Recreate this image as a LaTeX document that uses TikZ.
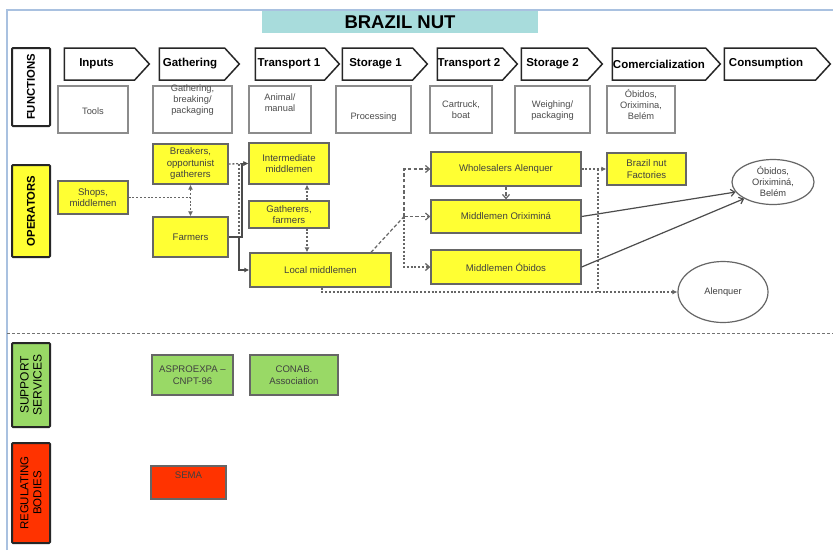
\documentclass[tikz,border=0pt]{standalone}
\usepackage{fontspec}
\setmainfont{Liberation Sans}
\usetikzlibrary{shapes.symbols,shapes.geometric,arrows.meta}

\definecolor{titlecyan}{HTML}{A8DCDC}
\definecolor{opyellow}{HTML}{FFFF33}
\definecolor{supgreen}{HTML}{99D966}
\definecolor{regred}{HTML}{FF3300}
\definecolor{frameblue}{HTML}{A9C1E0}

\begin{document}
\begin{tikzpicture}[x=1pt,y=-1pt,
  lane/.style={draw=black!85, line width=2pt, rounded corners=1pt, inner sep=0pt,
    rotate=90, align=center, minimum height=38},
  chev/.style={signal, signal to=east, signal pointer angle=95, draw=black!85,
    line width=1.5pt, fill=white, minimum height=32, inner sep=0pt,
    font=\fontsize{11.5}{13}\selectfont\bfseries},
  task/.style={draw=black!45, line width=1.4pt, fill=white, inner sep=0pt, minimum height=47},
  tasktext/.style={inner sep=0pt, align=center, text=black!70,
    font=\fontsize{9.3}{11}\selectfont},
  op/.style={draw=black!60, line width=1.3pt, fill=opyellow, inner sep=0pt, align=center,
    text=black!75, font=\fontsize{9.6}{11.5}\selectfont},
  sup/.style={op, fill=supgreen},
  reg/.style={op, fill=regred},
  place/.style={ellipse, draw=black!60, line width=1.2pt, fill=white, inner sep=0pt,
    align=center, text=black!75, font=\fontsize{9.3}{11}\selectfont},
  dots/.style={draw=black!60, line width=1.3pt, dash pattern=on 2pt off 1.8pt},
  dashes/.style={draw=black!60, line width=1.2pt, dash pattern=on 3.5pt off 2.2pt},
  flow/.style={draw=black!70, line width=1.2pt},
  filledtip/.style={-{Latex[length=5pt,width=5pt]}},
  opentip/.style={-{Straight Barb[length=4pt,width=7pt]}}
]
\useasboundingbox (0,0) rectangle (833,550);
\fill[white] (0,0) rectangle (833,550);

% page frame
\draw[frameblue, line width=1.5pt] (7,550) -- (7,10) -- (833,10);

% title
\node[fill=titlecyan, minimum width=276, minimum height=22, inner sep=0pt,
  font=\fontsize{18.5}{20}\selectfont\bfseries] (title) at (400,22) {BRAZIL NUT};

% lane labels
\node[lane, fill=white, minimum width=78, font=\fontsize{11.3}{13}\selectfont\bfseries]
  (lfun) at (31,87) {FUNCTIONS};
\node[lane, fill=opyellow, minimum width=92, font=\fontsize{11.3}{13}\selectfont\bfseries]
  (lop) at (31,211) {OPERATORS};
\node[lane, fill=supgreen, minimum width=84, font=\fontsize{12}{13}\selectfont]
  (lsup) at (31,385) {SUPPORT\\SERVICES};
\node[lane, fill=regred, minimum width=100, font=\fontsize{11.5}{13}\selectfont]
  (lreg) at (31,493) {REGULATING\\BODIES};

% functions
\node[chev, minimum width=85]  (f1) at (99.5,64)  {Inputs\hspace*{6pt}};
\node[chev, minimum width=80]  (f2) at (192,64)   {Gathering\hspace*{4pt}};
\node[chev, minimum width=84]  (f3) at (290,64)   {Transport 1\hspace*{2pt}};
\node[chev, minimum width=85]  (f4) at (377.5,64) {Storage 1\hspace*{4pt}};
\node[chev, minimum width=80]  (f5) at (470,64)   {Transport 2\hspace*{2pt}};
\node[chev, minimum width=81]  (f6) at (554.5,64) {Storage 2\hspace*{4pt}};
\node[chev, minimum width=108] (f7) at (659,64)   {Comercialization};
\node[chev, minimum width=106] (f8) at (770,64)   {Consumption\hspace*{8pt}};

% activities under each function
\node[task, minimum width=70] (tk1) at (93,109.5) {};
\node[task, minimum width=79] (tk2) at (192.5,109.5) {};
\node[task, minimum width=62] (tk3) at (280,109.5) {};
\node[task, minimum width=75] (tk4) at (373.5,109.5) {};
\node[task, minimum width=62] (tk5) at (461,109.5) {};
\node[task, minimum width=75] (tk6) at (552.5,109.5) {};
\node[task, minimum width=68] (tk7) at (641,109.5) {};
\node[tasktext] (tt1) at (93,111) {Tools};
\node[tasktext] (tt2) at (192.5,100) {Gathering,\\breaking/\\packaging};
\node[tasktext] (tt3) at (280,103) {Animal/\\manual};
\node[tasktext] (tt4) at (373.5,117) {Processing};
\node[tasktext] (tt5) at (461,110) {Cartruck,\\boat};
\node[tasktext] (tt6) at (552.5,111) {Weighing/\\packaging};
\node[tasktext] (tt7) at (641,105) {Óbidos,\\Oriximina,\\Belém};

% operators
\node[op, minimum width=70, minimum height=33]  (shops)   at (93,197.5)  {Shops,\\middlemen};
\node[op, minimum width=75, minimum height=40]  (breakers) at (190.5,164) {Breakers,\\opportunist\\gatherers};
\node[op, minimum width=75, minimum height=40]  (farmers) at (190.5,237)  {Farmers};
\node[op, minimum width=80, minimum height=41]  (inter)   at (289,163.5)  {Intermediate\\middlemen};
\node[op, minimum width=80, minimum height=27]  (gath)    at (289,214.5)  {Gatherers,\\farmers};
\node[op, minimum width=141, minimum height=34] (local)   at (320.5,270)  {Local middlemen};
\node[op, minimum width=150, minimum height=34] (whole)   at (506,169)    {Wholesalers Alenquer};
\node[op, minimum width=150, minimum height=33] (orix)    at (506,216.5)  {Middlemen Oriximiná};
\node[op, minimum width=150, minimum height=34] (obid)    at (506,267)    {Middlemen Óbidos};
\node[op, minimum width=79, minimum height=32]  (fact)    at (646.5,169)  {Brazil nut\\Factories};
\node[place, minimum width=82, minimum height=45] (cities) at (773,182) {Óbidos,\\Oriximiná,\\Belém};
\node[place, minimum width=90, minimum height=61] (alenq)  at (723,292) {Alenquer};

% bend points of the flows
\coordinate (bx) at (239,164);
\coordinate (fx) at (242,237);
\coordinate (gx) at (307,0);
\coordinate (lx) at (371,0);
\coordinate (dx) at (404,0);
\coordinate (vx) at (598,0);
\coordinate (lbx) at (322,0);

% gathering flows
\draw[dots] (shops.east) -- (shops.east -| breakers.south);
\draw[dots, {Latex[length=5pt,width=5pt]}-{Latex[length=5pt,width=5pt]}]
  (breakers.south) -- (farmers.north);
\draw[dots, filledtip] (breakers.east) -- (inter.west);
\draw[dots] (bx) -- (bx |- local.west);
\draw[flow, filledtip] (farmers.east) -- (fx) |- (inter.west);
\draw[flow, filledtip] (farmers.east -| bx) |- (local.west);
\draw[dots, filledtip] (gath.north -| gx) -- (inter.south -| gx);
\draw[dots, filledtip] (gath.south -| gx) -- (local.north -| gx);

% distribution flows
\draw[dashes] (local.north -| lx) -- (orix.west -| dx);
\draw[dashes, opentip] (orix.west -| dx) |- (whole.west);
\draw[dashes, opentip] (orix.west -| dx) -- (orix.west);
\draw[dots, opentip] (orix.west -| dx) |- (obid.west);
\draw[dashes, opentip] (whole.south) -- (orix.north);
\draw[dots, filledtip] (whole.east) -- (fact.west);
\draw[dots] (whole.east -| vx) -- (alenq.west -| vx);
\draw[dots, filledtip] (local.south -| lbx) |- (alenq.west);
\draw[flow, opentip] (orix.east) -- (cities.195);
\draw[flow, opentip] (obid.east) -- (cities.210);

% boundary between chain and its environment
\draw[black!55, line width=1pt, dash pattern=on 3pt off 2pt] (7,333) -- (833,333);

% support services and regulating bodies
\node[sup, minimum width=81, minimum height=40] (aspro) at (192.5,375) {ASPROEXPA --\\CNPT-96};
\node[sup, minimum width=88, minimum height=40] (conab) at (294,375)   {CONAB.\\Association};
\node[reg, minimum width=75, minimum height=33, text depth=15pt] (sema) at (188.5,482.5) {SEMA};
\end{tikzpicture}
\end{document}
